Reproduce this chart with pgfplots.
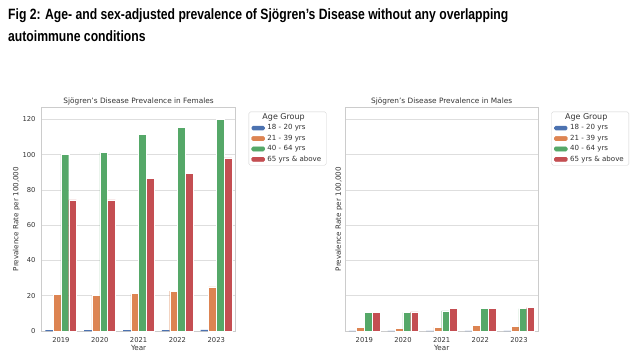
\documentclass[border=0pt]{standalone}
\usepackage{fontspec}
\setmainfont{DejaVu Sans}
\newfontfamily\titlefont[FakeStretch=0.815]{Liberation Sans}
\usepackage{pgfplots}
\pgfplotsset{compat=1.18}
\definecolor{cblue}{HTML}{4C72B0}
\definecolor{corange}{HTML}{DD8452}
\definecolor{cgreen}{HTML}{55A868}
\definecolor{cred}{HTML}{C44E52}
\definecolor{txt}{HTML}{333333}
\pgfplotsset{
  common/.style={
    scale only axis,
    ymin=0, ymax=127, xmin=-0.5, xmax=4.5,
    xtick={0,1,2,3,4}, xticklabels={2019,2020,2021,2022,2023},
    ytick={0,20,40,60,80,100,120},
    ymajorgrids,
    major grid style={color=black!13, line width=0.5bp},
    axis line style={black!20, line width=0.6bp},
    major tick length=0pt,
    /pgf/number format/assume math mode=true,
    tick label style={font=\fontsize{6.8}{8}\selectfont, text=txt},
    xticklabel style={yshift=-2.5bp},
    yticklabel style={xshift=-2.5bp},
    every axis title/.style={at={(rel axis cs:0.5,1)}, anchor=center, yshift=5.5bp,
      font=\fontsize{7.4}{9}\selectfont, text=txt},
    every axis x label/.style={at={(rel axis cs:0.5,0)}, anchor=center, yshift=-17bp,
      font=\fontsize{7.2}{9}\selectfont, text=txt},
    xlabel={Year},
    ylabel={Prevalence Rate per 100,000},
    legend cell align=left,
    legend style={at={(1,1)}, anchor=north west, xshift=13bp, yshift=-4.7bp,
      draw=black!18, rounded corners=1.5bp, fill=white,
      font=\fontsize{7.1}{8}\selectfont, text=txt,
      row sep=3.3bp, inner xsep=2.5bp, inner ysep=2.3bp,
      nodes={inner ysep=0.3bp, inner xsep=2.5bp, text height=5bp, text depth=1.5bp}},
  },
  bars/.style={ybar, bar width=0.2, fill=#1, draw=white, line width=0.3bp,
    legend image code/.code={\fill[#1] (0bp,-2.2bp) rectangle (13.3bp,2.2bp);}},
}
\begin{document}
\begin{tikzpicture}
\path[use as bounding box] (0bp,0bp) rectangle (638bp,-358bp);
\node[anchor=base west, inner sep=0, text=black, font=\titlefont\bfseries\fontsize{15}{18}\selectfont] at (8bp,-19bp) {Fig 2: Age- and sex-adjusted prevalence of Sjögren’s Disease without any overlapping};
\node[anchor=base west, inner sep=0, text=black, font=\titlefont\bfseries\fontsize{15}{18}\selectfont] at (8bp,-41.7bp) {autoimmune conditions};

\begin{axis}[common, at={(41.5bp,-331bp)}, anchor=south west, width=194.2bp, height=224bp,
  title={Sjögren’s Disease Prevalence in Females},
  every axis y label/.style={at={([xshift=-25bp]rel axis cs:0,0.5)}, anchor=center, rotate=90,
    font=\fontsize{7.2}{9}\selectfont, text=txt}]
\addlegendimage{empty legend}
\addplot[bars=cblue, draw=none, bar shift=-0.3] coordinates {(0,0.5) (1,0.5) (2,0.5) (3,0.5) (4,0.6)};
\addplot[bars=corange, bar shift=-0.1] coordinates {(0,20.7) (1,20.3) (2,21.2) (3,22.6) (4,25.0)};
\addplot[bars=cgreen, bar shift=0.1] coordinates {(0,100.0) (1,101.3) (2,111.5) (3,115.3) (4,119.9)};
\addplot[bars=cred, bar shift=0.3] coordinates {(0,74.4) (1,74.4) (2,86.4) (3,89.3) (4,98.1)};
\legend{\hspace*{-5bp}{\fontsize{8}{9}\selectfont Age Group}, 18 - 20 yrs, 21 - 39 yrs, 40 - 64 yrs, 65 yrs \& above}
\end{axis}

\begin{axis}[common, at={(345bp,-331bp)}, anchor=south west, width=193.3bp, height=224bp,
  title={Sjögren’s Disease Prevalence in Males}, yticklabels={},
  every axis y label/.style={at={([xshift=-6bp]rel axis cs:0,0.5)}, anchor=center, rotate=90,
    font=\fontsize{7.2}{9}\selectfont, text=txt}]
\addlegendimage{empty legend}
\addplot[bars=cblue, draw=none, bar shift=-0.3] coordinates {(0,0.1) (1,0.1) (2,0.1) (3,0.1) (4,0.1)};
\addplot[bars=corange, bar shift=-0.1] coordinates {(0,2.2) (1,1.7) (2,2.2) (3,3.4) (4,2.8)};
\addplot[bars=cgreen, bar shift=0.1] coordinates {(0,10.5) (1,10.5) (2,11.4) (3,12.7) (4,12.7)};
\addplot[bars=cred, bar shift=0.3] coordinates {(0,10.7) (1,10.9) (2,12.9) (3,12.7) (4,13.3)};
\legend{\hspace*{-5bp}{\fontsize{8}{9}\selectfont Age Group}, 18 - 20 yrs, 21 - 39 yrs, 40 - 64 yrs, 65 yrs \& above}
\end{axis}
\end{tikzpicture}
\end{document}
